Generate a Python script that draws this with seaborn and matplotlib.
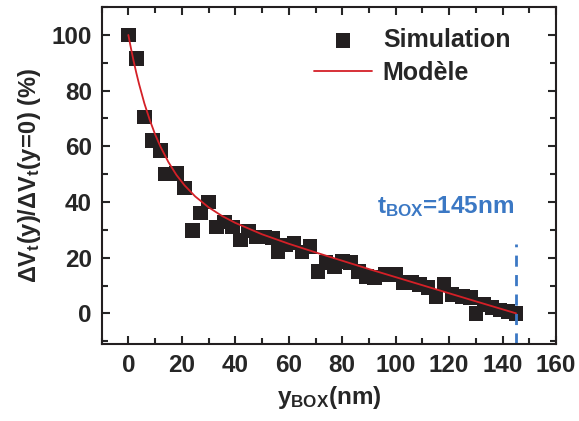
import numpy as np
import pandas as pd
import matplotlib
matplotlib.use("Agg")
import matplotlib.pyplot as plt
import seaborn as sns
from matplotlib.ticker import MultipleLocator

# --- Data ---
sim_y_box = [0, 3, 6, 9, 12, 14, 18, 21, 24, 27, 30, 33, 36, 39, 42, 45, 48, 51,
             54, 56, 59, 62, 65, 68, 71, 74, 77, 80, 83, 86, 89, 92, 96, 100, 103,
             106, 109, 112, 115, 118, 121, 125, 128, 130, 133, 136, 139, 142, 145]
sim_dvt = [100, 91.5, 70.5, 62, 58.5, 50, 50.3, 45, 29.8, 36, 40, 31, 32.8, 31,
           26.4, 29.6, 27.5, 27.5, 27, 22, 24.6, 25.3, 22, 24, 15, 18.2, 16.8,
           18.6, 18.2, 15, 13.2, 12.8, 14, 14, 11, 11, 10.4, 9.3, 6, 10.4, 6.8,
           6, 5.7, 0, 3.2, 2, 1.2, 0.7, 0]

model_y_box = [0, 1, 2, 3, 4, 6, 8, 10, 12, 15, 18, 21, 25, 30, 35, 40, 50, 60,
               70, 80, 90, 100, 110, 120, 130, 145]
model_dvt = [100, 95.1, 90.5, 86.3, 82.4, 75.4, 69.5, 64.3, 59.9, 54.3, 49.7, 46.0,
             42.0, 38.1, 35.0, 32.5, 28.4, 25.0, 21.9, 18.9, 15.9, 13.0, 10.1, 7.2,
             4.3, 0]

t_box = 145
x_ticks = [0, 20, 40, 60, 80, 100, 120, 140, 160]
y_ticks = [0, 20, 40, 60, 80, 100]

df_sim = pd.DataFrame({"y_box": sim_y_box, "dvt": sim_dvt})
df_model = pd.DataFrame({"y_box": model_y_box, "dvt": model_dvt})

sns.set_style("ticks")
plt.rcParams["font.family"] = ["Liberation Sans", "DejaVu Sans"]
plt.rcParams["font.weight"] = "bold"
plt.rcParams["mathtext.fontset"] = "custom"
plt.rcParams["mathtext.rm"] = "Liberation Sans:bold"
plt.rcParams["mathtext.bf"] = "Liberation Sans:bold"
plt.rcParams["mathtext.it"] = "Liberation Sans:bold"

BLUE = "#3b78c4"
RED = "#d42027"
DARK = "#231f20"

fig = plt.figure(figsize=(5.79, 4.21), dpi=100)
ax = fig.add_axes([0.1755, 0.183, 0.785, 0.800])

sns.lineplot(data=df_model, x="y_box", y="dvt", ax=ax, color=RED, linewidth=1.3,
             label="Modèle", zorder=3)
sns.scatterplot(data=df_sim, x="y_box", y="dvt", ax=ax, marker="s", s=110,
                color=DARK, edgecolor="none", label="Simulation", zorder=2)

# t_BOX marker
ax.plot([t_box, t_box], [-11, 25], color=BLUE, linestyle=(0, (4, 3)), linewidth=2)
ax.text(118.5, 38.5, r"$\mathbf{t_{BOX}}$=145nm", color=BLUE, fontsize=17.5,
        fontweight="bold", ha="center", va="center")

ax.set_xlim(-10, 160)
ax.set_ylim(-11, 110)
ax.set_xticks(x_ticks)
ax.set_yticks(y_ticks)
ax.xaxis.set_minor_locator(MultipleLocator(10))
ax.yaxis.set_minor_locator(MultipleLocator(10))
ax.tick_params(which="both", direction="in", top=True, right=True, width=1.5,
               labelsize=17.5)
ax.tick_params(which="major", length=6, pad=7)
ax.tick_params(which="minor", length=4)
for lab in ax.get_xticklabels() + ax.get_yticklabels():
    lab.set_fontweight("bold")
for sp in ax.spines.values():
    sp.set_linewidth(1.5)
    sp.set_color(DARK)

ax.set_xlabel(r"$\mathbf{y_{BOX}}$(nm)", fontsize=17.5, fontweight="bold", labelpad=5)
ax.set_ylabel(r"$\mathbf{\Delta V_t(y)/\Delta V_t(y\!=\!0)\ (\%)}$", fontsize=17,
              labelpad=6)

handles, labels = ax.get_legend_handles_labels()
order = [labels.index("Simulation"), labels.index("Modèle")]
ax.legend([handles[i] for i in order], [labels[i] for i in order],
          loc="upper left", bbox_to_anchor=(0.44, 0.975), frameon=False,
          handlelength=2.3, handletextpad=0.45, labelspacing=0.35,
          borderpad=0, prop={"weight": "bold", "size": 18})

fig.savefig("out.png", dpi=100)
